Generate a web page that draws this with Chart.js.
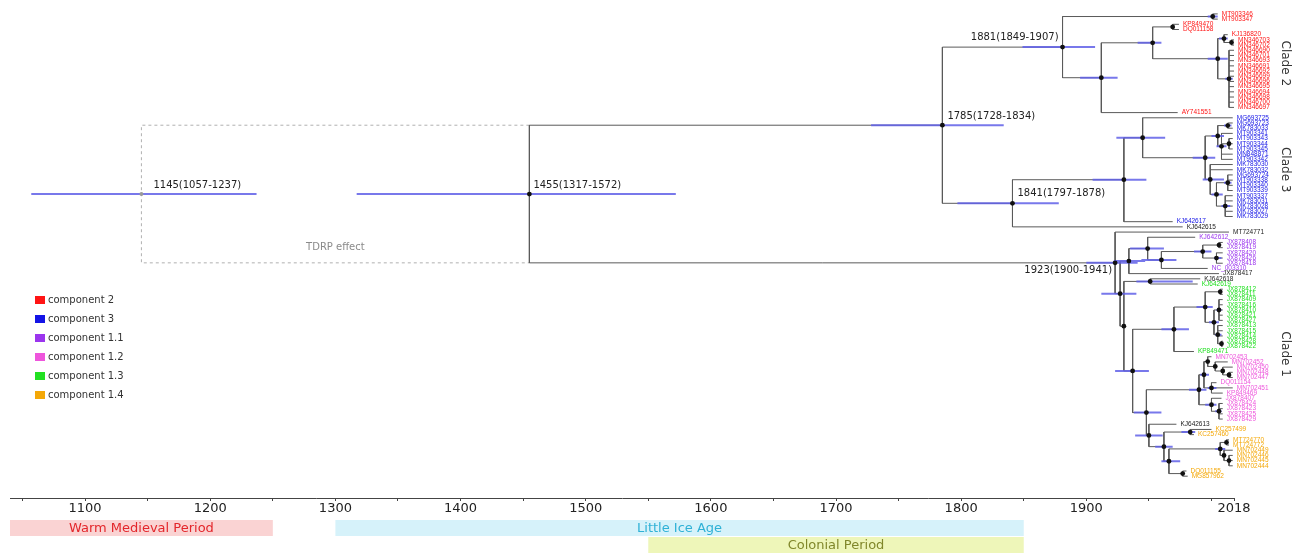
<!DOCTYPE html>
<html>
<head>
<meta charset="utf-8">
<title>Dated phylogeny</title>
<script src="https://cdn.jsdelivr.net/npm/chart.js@4.4.0/dist/chart.umd.min.js"></script>
<style>
  html, body { margin: 0; padding: 0; background: #fff; }
  #wrap { width: 1294px; height: 553px; }
</style>
</head>
<body>
<div id="wrap"><canvas id="treeChart" width="1294" height="553"></canvas></div>
<script>
"use strict";

// tips, top to bottom
const tipNames = [
  "MT903346", "MT903347", "KP849470", "DQ011158", "KJ136820", "MN346703", "MN346702",
  "MN346690", "MN346701", "MN346693", "MN346691", "MN346692", "MN346699", "MN346696",
  "MN346695", "MN346694", "MN346698", "MN346700", "MN346697", "AY741551",
  "MG693725", "MG693723", "MK783033", "MT903341", "MT903343", "MT903344", "MT903345",
  "MN848871", "MT903342", "MK783030", "MK783032", "MG693724", "MT903338", "MT903340",
  "MT903339", "MT903337", "MK783031", "MK783028", "MK783027", "MK783029", "KJ642617",
  "KJ642615",
  "MT724771", "KJ642612", "JX878408", "JX878419", "JX878420", "JX878426", "JX878418",
  "NC_003310", "JX878417", "KJ642618", "KJ642619", "JX878412", "JX878411", "JX878409",
  "JX878416", "JX878410", "JX878421", "JX878427", "JX878413", "JX878415", "JX878414",
  "JX878428", "JX878422", "KP849471", "MN702453", "MN702452", "MN702450", "MN702448",
  "MN702447", "DQ011154", "MN702451", "KP849469", "JX878407", "JX878424", "JX878423",
  "JX878425", "JX878429", "KJ642613", "KC257499", "KC257460", "MT724770", "MT724772",
  "MN702449", "MN702446", "MN702445", "MN702444", "DQ011155", "MG857962"
];
// index into componentNames, -1 = no component
const tipGroups = [
  0, 0, 0, 0, 0, 0, 0, 0, 0, 0, 0, 0, 0, 0, 0, 0, 0, 0, 0, 0,
  1, 1, 1, 1, 1, 1, 1, 1, 1, 1, 1, 1, 1, 1, 1, 1, 1, 1, 1, 1, 1, -1,
  -1, 2, 2, 2, 2, 2, 2, 2, -1, -1, 4, 4, 4, 4, 4, 4, 4, 4, 4, 4, 4, 4, 4, 4,
  3, 3, 3, 3, 3, 3, 3, 3, 3, 3, 3, 3, 3, -1, 5, 5, 5, 5, 5, 5, 5, 5, 5, 5
];
const tipYears = [
  2005, 2005, 1974, 1974, 2013, 2018, 2018, 2018, 2018, 2018, 2018, 2018, 2018, 2018,
  2018, 2018, 2018, 2018, 2018, 1973,
  2017, 2017, 2017, 2017, 2017, 2017, 2017, 2017, 2017, 2017, 2017, 2017, 2017, 2017,
  2017, 2017, 2017, 2017, 2017, 2017, 1969, 1977,
  2014, 1987, 2009, 2009, 2009, 2009, 2009, 1997, 2006, 1991, 1989, 2009, 2009, 2009,
  2009, 2009, 2009, 2009, 2009, 2009, 2009, 2009, 2009, 1986, 2000, 2013, 2017, 2017,
  2017, 2004, 2017, 2009, 2008, 2009, 2009, 2009, 2009, 1972, 2000, 1986, 2014, 2014,
  2017, 2017, 2017, 2017, 1980, 1981
];

const componentNames = ["component 2", "component 3", "component 1.1", "component 1.2", "component 1.3", "component 1.4"];
const componentColors = ["#ff1414", "#1414e6", "#9b35ee", "#ee55dc", "#22e022", "#f4a808"];

// internal nodes; kids are tip indexes (numbers) or node names (strings)
const nodeNames = [
  "root", "n1455", "n1785", "n1881", "cA", "nB", "nC", "nD", "nF", "nG", "nI", "nH",
  "n1841", "nK", "nL", "nM", "nN", "nN1", "nN2", "nN3", "nO", "nO1", "nO2", "nO3",
  "P", "R0", "A2", "A3", "A4", "A5", "A6", "A7", "B1", "B2", "C1", "G1", "G2", "G3",
  "G4", "G5", "G6", "G7", "C2", "K1", "K2", "K3", "K4", "K5", "K5b", "K6", "K7", "K8",
  "O1", "O2", "O3", "O4", "O5", "O5a", "O5b", "O5c", "O6"
];
const nodeYears = [
  1145, 1455, 1785, 1881, 2001, 1912, 1953, 1969, 2005, 2010, 2016, 2014,
  1841, 1930, 1945, 1995, 2005, 2013, 2008, 2014, 1999, 2004, 2013, 2011,
  1923, 1927, 1934, 1949, 1960, 1993, 2006, 2004, 1930, 1951, 1937, 1970, 1995, 2007,
  2002, 2006, 2005, 2008, 1948, 1990, 1994, 1997, 2003, 2009, 2014, 2000, 2000, 2006,
  1950, 1962, 1983, 1966, 2007, 2012, 2010, 2014, 1977
];
const nodeKids = [
  ["n1455"], ["n1785", "P"], ["n1881", "n1841"], ["cA", "nB"], [0, 1], ["nC", 19],
  ["nD", "nF"], [2, 3], ["nG", "nH"], [4, "nI"], [5, 6],
  [7, 8, 9, 10, 11, 12, 13, 14, 15, 16, 17, 18],
  ["nK", 41], ["nL", 40], [20, "nM"], ["nN", "nO"], ["nN1", "nN2"], [21, 22],
  [23, "nN3", 27, 28], [24, 25, 26], [29, 30, "nO1"], ["nO2", "nO3"], [31, 32, 33, 34],
  [35, 36, 37, 38, 39],
  [42, "R0"], ["A2", "B1"], ["A3", 50], [43, "A4"], ["A5", 49], ["A6", "A7"], [44, 45],
  [46, 47, 48], ["B2", "C1"], [51, 52], ["G1", "C2"], ["G2", 65], ["G3", "G4"], [53, 54],
  ["G5", "G6"], [55, 56, 57, 58, 59], [60, 61, 62, "G7"], [63, 64], ["K1", "O1"],
  ["K2", "K7"], ["K3", "K6"], [66, "K4"], [67, "K5"], [68, "K5b"], [69, 70], [71, 72, 73],
  [74, "K8"], [75, 76, 77, 78],
  [79, "O2"], ["O3", "O4"], [80, 81], ["O5", "O6"], ["O5a", "O5b"], [82, 83], [84, "O5c"],
  [85, 86, 87], [88, 89]
];
// 95% HPD of node ages (null = no bar)
const hpdLow = [
  1057, 1317, 1728, 1849, 1997, 1895, 1941, null, 1997, 2006, null, 2011,
  1797, 1905, 1924, 1985, 2000, 2010, 2004, null, 1993, 2000, 2010, 2008,
  1900, 1912, 1922, 1935, 1944, 1986, null, 2002, null, 1940, 1923, 1960, 1988, null,
  1998, 2004, 2003, null, 1938, 1982, 1991, null, null, null, null, 1997, 1995, 2003,
  1939, 1955, 1976, 1960, 2003, null, null, null, null
];
const hpdHigh = [
  1237, 1572, 1834, 1907, 2005, 1925, 1960, null, 2013, 2013, null, 2017,
  1878, 1948, 1963, 2003, 2010, 2016, 2012, null, 2010, 2009, 2016, 2015,
  1941, 1940, 1947, 1962, 1972, 2000, null, 2008, null, 1985, 1950, 1982, 2001, null,
  2006, 2008, 2008, null, 1960, 1996, 1998, null, null, null, null, 2004, 2004, 2008,
  1961, 1969, 1987, 1975, 2011, null, null, null, null
];
const datedNodes = ["root", "n1455", "n1785", "n1881", "n1841", "P"];

const cladeNames = ["Clade 2", "Clade 3", "Clade 1"];
const cladeFirstTip = [0, 20, 42];
const cladeLastTip = [19, 40, 89];

const periodNames = ["Warm Medieval Period", "Little Ice Age", "Colonial Period"];
const periodStart = [1040, 1300, 1550];
const periodEnd = [1250, 1850, 1850];

const tickYears = [1050, 1100, 1150, 1200, 1250, 1300, 1350, 1400, 1450, 1500, 1550, 1600,
  1650, 1700, 1750, 1800, 1850, 1900, 1950, 2000, 2018];
const tickLabels = [1100, 1200, 1300, 1400, 1500, 1600, 1700, 1800, 1900, 2018];

// ---- layout of the tree (y = tip index) ----
const nodeIndex = {};
nodeNames.forEach((n, i) => { nodeIndex[n] = i; });
const nodeY = {};

function kidYear(k) {
  return typeof k === "number" ? tipYears[k] : nodeYears[nodeIndex[k]];
}
function kidY(k) {
  if (typeof k === "number") return k;
  if (nodeY[k] === undefined) {
    const kids = nodeKids[nodeIndex[k]];
    nodeY[k] = (kidY(kids[0]) + kidY(kids[kids.length - 1])) / 2;
  }
  return nodeY[k];
}

const branchPts = [];
const hpdPts = [];
const dotPts = [];
nodeNames.forEach((name, i) => {
  const yr = nodeYears[i];
  const y = kidY(name);
  if (hpdLow[i] !== null) {
    hpdPts.push({ x: hpdLow[i], y: y }, { x: hpdHigh[i], y: y }, { x: yr, y: null });
  }
  if (name === "root") return; // root edge is the dashed TDRP box
  dotPts.push({ x: yr, y: y });
  const kids = nodeKids[i];
  branchPts.push({ x: yr, y: kidY(kids[0]) }, { x: yr, y: kidY(kids[kids.length - 1]) }, { x: yr, y: null });
  kids.forEach((k) => {
    branchPts.push({ x: yr, y: kidY(k) }, { x: kidYear(k), y: kidY(k) }, { x: yr, y: null });
  });
});

const rootYear = nodeYears[nodeIndex["root"]];
const firstYear = nodeYears[nodeIndex["n1455"]];
const boxTop = kidY("n1785");
const boxBottom = kidY("P");
const boxPts = [
  { x: firstYear, y: boxTop }, { x: rootYear, y: boxTop },
  { x: rootYear, y: boxBottom }, { x: firstYear, y: boxBottom }
];
const rootPt = [{ x: rootYear, y: kidY("n1455") }];

// where the dated labels sit relative to their node
const labelPlace = {
  root: { dx: 12, dy: -9, align: "left" },
  n1455: { dx: 4, dy: -9, align: "left" },
  n1785: { dx: 5, dy: -9, align: "left" },
  n1881: { dx: -4, dy: -10, align: "right" },
  n1841: { dx: 5, dy: -10, align: "left" },
  P: { dx: -3, dy: 8, align: "right" }
};

const treeText = {
  id: "treeText",
  afterDraw(chart) {
    const ctx = chart.ctx;
    const xs = chart.scales.x;
    const ys = chart.scales.y;
    const area = chart.chartArea;
    ctx.save();

    // tip labels
    ctx.font = "6.5px 'Liberation Sans', Arial, sans-serif";
    ctx.textBaseline = "middle";
    ctx.textAlign = "left";
    tipNames.forEach((name, i) => {
      const g = tipGroups[i];
      ctx.fillStyle = g < 0 ? "#222" : componentColors[g];
      ctx.fillText(name, xs.getPixelForValue(tipYears[i]) + 4, ys.getPixelForValue(i));
    });

    // dated node labels
    ctx.font = "10px 'DejaVu Sans', sans-serif";
    ctx.fillStyle = "#222";
    datedNodes.forEach((name) => {
      const i = nodeIndex[name];
      const p = labelPlace[name];
      ctx.textAlign = p.align;
      const txt = nodeYears[i] + "(" + hpdLow[i] + "-" + hpdHigh[i] + ")";
      ctx.fillText(txt, xs.getPixelForValue(nodeYears[i]) + p.dx, ys.getPixelForValue(kidY(name)) + p.dy);
    });

    // TDRP box caption
    ctx.fillStyle = "#8a8a8a";
    ctx.textAlign = "center";
    ctx.fillText("TDRP effect", (xs.getPixelForValue(rootYear) + xs.getPixelForValue(firstYear)) / 2,
      ys.getPixelForValue(boxBottom) - 15);

    // clade names, rotated
    ctx.font = "12px 'DejaVu Sans', sans-serif";
    ctx.fillStyle = "#333";
    cladeNames.forEach((c, i) => {
      const yMid = (ys.getPixelForValue(cladeFirstTip[i]) + ys.getPixelForValue(cladeLastTip[i])) / 2;
      ctx.save();
      ctx.translate(1285, yMid);
      ctx.rotate(Math.PI / 2);
      ctx.textAlign = "center";
      ctx.fillText(c, 0, 0);
      ctx.restore();
    });

    // legend
    ctx.font = "10px 'DejaVu Sans', sans-serif";
    ctx.textAlign = "left";
    componentNames.forEach((c, i) => {
      const y = 300 + i * 19;
      ctx.fillStyle = componentColors[i];
      ctx.fillRect(35, y - 4, 10, 8);
      ctx.fillStyle = "#333";
      ctx.fillText(c, 48, y + 0.5);
    });

    // historical periods under the time axis
    const rowTop = [area.bottom + 22, area.bottom + 22, area.bottom + 39];
    const fills = ["#fad3d3", "#d6f2fa", "#eef6b9"];
    const inks = ["#e3262b", "#2fb1d6", "#80872a"];
    ctx.font = "13px 'DejaVu Sans', sans-serif";
    ctx.textAlign = "center";
    periodNames.forEach((p, i) => {
      const x0 = xs.getPixelForValue(periodStart[i]);
      const x1 = xs.getPixelForValue(periodEnd[i]);
      ctx.fillStyle = fills[i];
      ctx.fillRect(x0, rowTop[i], x1 - x0, 16);
      ctx.fillStyle = inks[i];
      ctx.fillText(p, (x0 + x1) / 2, rowTop[i] + 8.5);
    });
    ctx.restore();
  }
};

const ctx = document.getElementById("treeChart").getContext("2d");
const treeChart = new Chart(ctx, {
  type: "scatter",
  data: {
    datasets: [
      { label: "nodes", data: dotPts, showLine: false, pointRadius: 2.4, pointBackgroundColor: "#111",
        pointBorderWidth: 0, order: 0, clip: false },
      { label: "root", data: rootPt, showLine: false, pointRadius: 2, pointBackgroundColor: "#9a9a9a",
        pointBorderWidth: 0, order: 0, clip: false },
      { label: "hpd", data: hpdPts, showLine: true, borderColor: "rgba(96,96,232,0.85)", borderWidth: 2,
        pointRadius: 0, spanGaps: false, order: 1, clip: false },
      { label: "branches", data: branchPts, showLine: true, borderColor: "#5a5a5a", borderWidth: 1,
        pointRadius: 0, spanGaps: false, order: 2, clip: false },
      { label: "tdrp", data: boxPts, showLine: true, borderColor: "#b0b0b0", borderWidth: 1,
        borderDash: [3, 3], pointRadius: 0, order: 3, clip: false }
    ]
  },
  options: {
    responsive: false,
    animation: false,
    events: [],
    layout: { padding: { left: 10, right: 60, top: 0, bottom: 35 } },
    elements: { line: { tension: 0 } },
    plugins: { legend: { display: false }, tooltip: { enabled: false } },
    scales: {
      x: {
        type: "linear",
        min: 1040,
        max: 2018,
        afterBuildTicks: (scale) => { scale.ticks = tickYears.map((v) => ({ value: v })); },
        afterFit: (scale) => { scale.height = 20; },
        grid: { drawOnChartArea: false, tickLength: 3, color: "#444" },
        border: { display: true, color: "#444", width: 1 },
        ticks: {
          padding: 0,
          autoSkip: false,
          maxRotation: 0,
          color: "#222",
          font: { family: "'DejaVu Sans', sans-serif", size: 13 },
          callback: (v) => (tickLabels.includes(v) ? String(v) : "")
        }
      },
      y: { type: "linear", display: false, reverse: true, min: -1.91, max: 93.2 }
    }
  },
  plugins: [treeText]
});
</script>
</body>
</html>
